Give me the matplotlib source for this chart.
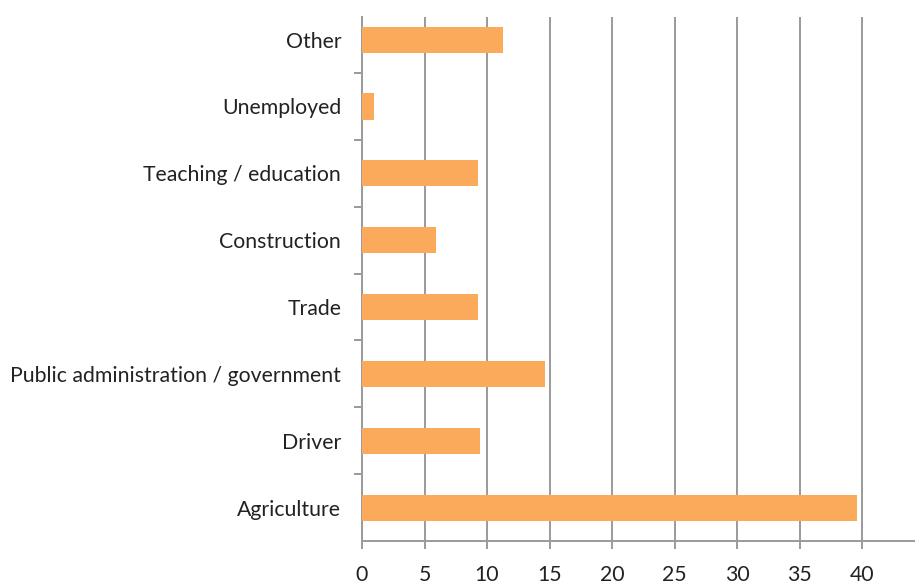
"""Occupation distribution, horizontal bar chart."""

import matplotlib
matplotlib.use("Agg")
import matplotlib.pyplot as plt
import numpy as np

categories = [
    "Agriculture",
    "Driver",
    "Public administration / government",
    "Trade",
    "Construction",
    "Teaching / education",
    "Unemployed",
    "Other",
]
values = [39.6, 9.4, 14.6, 9.3, 5.9, 9.3, 1.0, 11.3]
x_ticks = [0, 5, 10, 15, 20, 25, 30, 35, 40]

BAR_COLOR = "#FAAA5A"
GRID_COLOR = "#9A9A9A"
TEXT_COLOR = "#222222"

plt.rcParams["font.family"] = ["Lato", "DejaVu Sans"]

fig = plt.figure(figsize=(9.15, 5.83), dpi=100)
ax = fig.add_axes([0.3956, 0.072, 0.6044, 0.899])

pos = np.arange(len(categories))
ax.barh(pos, values, height=0.39, color=BAR_COLOR, zorder=3)

ax.set_xlim(0, 44.2)
ax.set_ylim(-0.5, 7.34)

ax.set_xticks(x_ticks)
ax.set_xticklabels([str(t) for t in x_ticks])
ax.set_yticks(pos)
ax.set_yticklabels(categories)
# category separators on the left spine
ax.set_yticks(pos[:-1] + 0.5, minor=True)

ax.grid(axis="x", color=GRID_COLOR, linewidth=1.4, zorder=0)
for side in ["top", "right"]:
    ax.spines[side].set_visible(False)
for side in ["left", "bottom"]:
    ax.spines[side].set_color(GRID_COLOR)
    ax.spines[side].set_linewidth(1.4)

ax.tick_params(axis="y", which="major", length=0, pad=15,
               labelsize=15.3, labelcolor=TEXT_COLOR)
ax.tick_params(axis="y", which="minor", length=6, width=1.4,
               color=GRID_COLOR, direction="out")
ax.tick_params(axis="x", which="major", length=6, width=1.4,
               color=GRID_COLOR, pad=11, labelsize=15.3, labelcolor=TEXT_COLOR)

plt.savefig("out.png", dpi=100)
print("Saved out.png")
